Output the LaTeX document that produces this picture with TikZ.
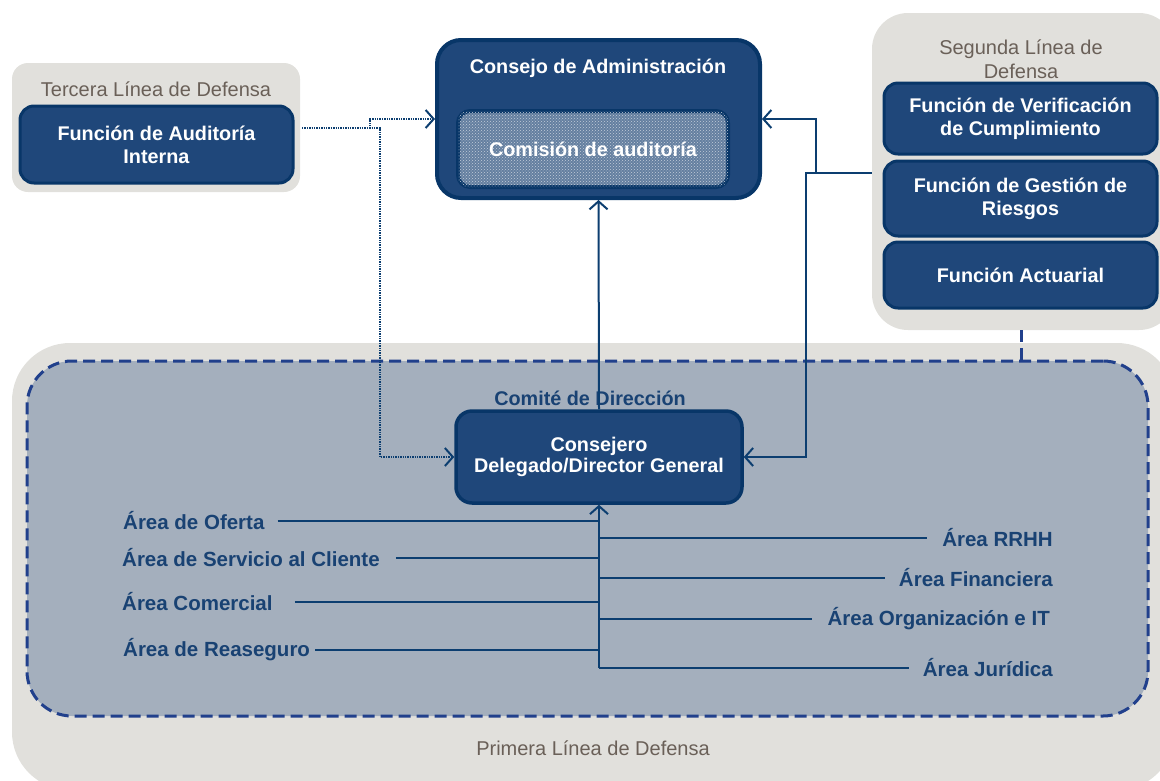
\documentclass[tikz,border=0pt]{standalone}
\usepackage{fontspec}
\setmainfont{Liberation Sans}
\usetikzlibrary{arrows.meta,patterns}
\definecolor{graybg}{RGB}{225,224,220}
\definecolor{navyfill}{RGB}{31,71,122}
\definecolor{navyline}{RGB}{8,54,104}
\definecolor{regionfill}{RGB}{164,175,189}
\definecolor{regionline}{RGB}{33,64,140}
\definecolor{connc}{RGB}{12,62,112}
\definecolor{areac}{RGB}{25,66,115}
\definecolor{graytext}{RGB}{106,96,88}
\definecolor{comfill}{RGB}{100,127,160}
\definecolor{comdots}{RGB}{196,206,218}
\newcommand\myboxfont{\fontsize{19.8}{23}\selectfont\bfseries}
\newcommand\myareafont{\fontsize{20.5}{23}\selectfont\bfseries}
\newcommand\mygrayfont{\fontsize{20}{24}\selectfont}
\tikzset{
  graybox/.style={fill=graybg, draw=none, inner sep=0pt},
  navybox/.style={fill=navyfill, draw=navyline, line width=3pt, rounded corners=14pt,
    text=white, font=\myboxfont, align=center, inner sep=0pt},
  conn/.style={draw=connc, line width=2pt},
  arr/.style={-{Straight Barb[length=8pt,width=18pt]}},
  dotline/.style={draw=connc, line width=2pt, dash pattern=on 1.4pt off 1pt},
  dline/.style={draw=regionline, line width=3pt, dash pattern=on 12pt off 6pt},
  arealabel/.style={text=areac, font=\myareafont, inner sep=0pt},
  graylabel/.style={text=graytext, font=\mygrayfont, align=center, inner sep=0pt},
}
\begin{document}
\begin{tikzpicture}[x=1pt,y=-1pt]
\useasboundingbox (0,0) rectangle (1160,780);
% gray groups
\node[graybox, rounded corners=16pt, minimum width=288pt, minimum height=129pt] (tercera) at (156,127.5) {};
\node[graybox, rounded corners=36pt, minimum width=303pt, minimum height=317pt] (segunda) at (1023.5,171.5) {};
\node[graybox, rounded corners=58pt, minimum width=1163pt, minimum height=447pt] (primera) at (593.5,566.5) {};
% dashed region
\node[fill=regionfill, draw=regionline, line width=3pt, dash pattern=on 12pt off 6pt, rounded corners=45pt,
  minimum width=1121pt, minimum height=355pt, inner sep=0pt] (comite) at (587.5,538.5) {};
% gray labels
\node[graylabel] (tlabel) at (156,89) {Tercera Línea de Defensa};
\node[graylabel] (slabel) at (1021,59) {Segunda Línea de\\Defensa};
\node[graylabel] (plabel) at (593,748) {Primera Línea de Defensa};
% boxes
\node[navybox, minimum width=273pt, minimum height=77pt] (auditoria) at (156.5,144.5) {Función de Auditoría\\Interna};
\node[navybox, line width=4pt, rounded corners=24pt, minimum width=323pt, minimum height=158pt] (consejo) at (598.5,119) {};
\node[text=white, font=\myboxfont, inner sep=0pt] (consejotitle) at (598,68) {Consejo de Administración};
\node[navybox, fill=comfill, line width=4pt, rounded corners=12pt, minimum width=270pt, minimum height=76pt] (comision) at (593,149) {};
\fill[pattern=crosshatch dots, pattern color=comdots, rounded corners=10pt]
  ([xshift=2pt,yshift=2pt]comision.south west) rectangle ([xshift=-2pt,yshift=-2pt]comision.north east);
\node[text=white, font=\myboxfont, inner sep=0pt] (comisiontext) at (comision.center) {Comisión de auditoría};
\node[navybox, minimum width=273pt, minimum height=71pt] (verif) at (1020.5,118.5) {Función de Verificación\\de Cumplimiento};
\node[navybox, minimum width=273pt, minimum height=75pt] (gestion) at (1020.5,198.5) {Función de Gestión de\\Riesgos};
\node[navybox, minimum width=273pt, minimum height=66pt] (actuarial) at (1020.5,275) {Función Actuarial};
\node[text=areac, font=\myboxfont, inner sep=0pt] (comitetitle) at (590,398) {Comité de Dirección};
\node[navybox, line width=3.5pt, rounded corners=16pt, minimum width=286pt, minimum height=92pt,
  font=\fontsize{19.8}{21.5}\selectfont\bfseries] (consejero) at (599,457) {Consejero\\Delegado/Director General};
% area labels
\node[arealabel, anchor=west] (oferta) at (123,521) {Área de Oferta};
\node[arealabel, anchor=west] (servicio) at (122,558) {Área de Servicio al Cliente};
\node[arealabel, anchor=west] (comercial) at (122,602) {Área Comercial};
\node[arealabel, anchor=west] (reaseguro) at (123,650) {Área de Reaseguro};
\node[arealabel, anchor=east] (rrhh) at (1053,538) {Área RRHH};
\node[arealabel, anchor=east] (financiera) at (1053,578) {Área Financiera};
\node[arealabel, anchor=east] (organizacion) at (1050,619) {Área Organización e IT};
\node[arealabel, anchor=east] (juridica) at (1053,668) {Área Jurídica};
% connectors
\coordinate (tb) at (599,668);
\draw[conn, arr] (tb) -- (consejero.south);
\draw[conn] ([xshift=13pt]oferta.east) -- (oferta.east -| tb);
\draw[conn] ([xshift=16pt]servicio.east) -- (servicio.east -| tb);
\draw[conn] ([xshift=22pt]comercial.east) -- (comercial.east -| tb);
\draw[conn] ([xshift=5pt]reaseguro.east) -- (reaseguro.east -| tb);
\draw[conn] (rrhh.west -| tb) -- ([xshift=-15pt]rrhh.west);
\draw[conn] (financiera.west -| tb) -- ([xshift=-14pt]financiera.west);
\draw[conn] (organizacion.west -| tb) -- ([xshift=-15pt]organizacion.west);
\draw[conn] (juridica.west -| tb) -- ([xshift=-14pt]juridica.west);
\draw[conn, arr] (consejero.north) -- (consejo.south);
\draw[conn, arr] (segunda.west |- 0,173) -- (816,173) |- (consejo.east);
\draw[conn, arr] (segunda.west |- 0,173) -- (806,173) |- (consejero.east);
\coordinate (a1) at (302,128);
\draw[dotline, arr] (a1) -- (370,128) |- (consejo.west);
\draw[dotline, arr] (a1) -- (380,128) |- (consejero.west);
\draw[dline] (segunda.south -| 1021,0) -- (comite.north -| 1021,0);
\end{tikzpicture}
\end{document}
